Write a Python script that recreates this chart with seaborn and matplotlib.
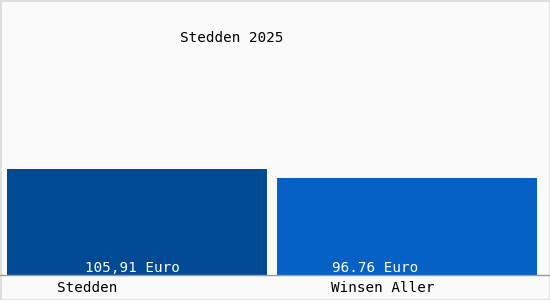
import matplotlib
matplotlib.use("Agg")
import matplotlib.pyplot as plt
import seaborn as sns

# Data
categories = ["Stedden", "Winsen Aller"]
values = [105.91, 96.76]
value_labels = ["105,91 Euro", "96.76 Euro"]
title = "Stedden 2025"

BAR_COLORS = ["#034a94", "#0561c6"]
BG = "#fafafa"

sns.set_theme(style="white")
plt.rcParams["font.family"] = ["DejaVu Sans Mono", "DejaVu Sans"]

fig = plt.figure(figsize=(5.5, 3.0), dpi=100, facecolor=BG)
ax = fig.add_axes([0, 25 / 300, 1, 275 / 300])
ax.set_facecolor(BG)

sns.barplot(
    x=categories,
    y=values,
    hue=categories,
    palette=BAR_COLORS,
    saturation=1,
    width=0.963,
    linewidth=0,
    legend=False,
    ax=ax,
)

ax.set_xlim(-0.509, 1.528)
ax.set_ylim(0, 275)
ax.axis("off")

# value labels inside the bars
label_offsets = [-0.02, -0.12]
for i, txt in enumerate(value_labels):
    ax.text(i + label_offsets[i], 7, txt, ha="center", va="center",
            color="white", fontsize=10.3)

# category labels under the baseline
cat_x = [87 / 550, 383 / 550]
for x, name in zip(cat_x, categories):
    fig.text(x, 1 - 288 / 300, name, ha="center", va="center",
             color="black", fontsize=10.3)

fig.text(232 / 550, 1 - 38 / 300, title, ha="center", va="center",
         color="black", fontsize=10.3)

# baseline and outer frame
fig.add_artist(plt.Line2D([0, 1], [25 / 300, 25 / 300], color="#999999",
                          linewidth=1, transform=fig.transFigure))
fig.add_artist(plt.Rectangle((0, 0), 1, 1, fill=False, edgecolor="#dddddd",
                             linewidth=2, transform=fig.transFigure))

fig.savefig("out.png", dpi=100, facecolor=BG)
